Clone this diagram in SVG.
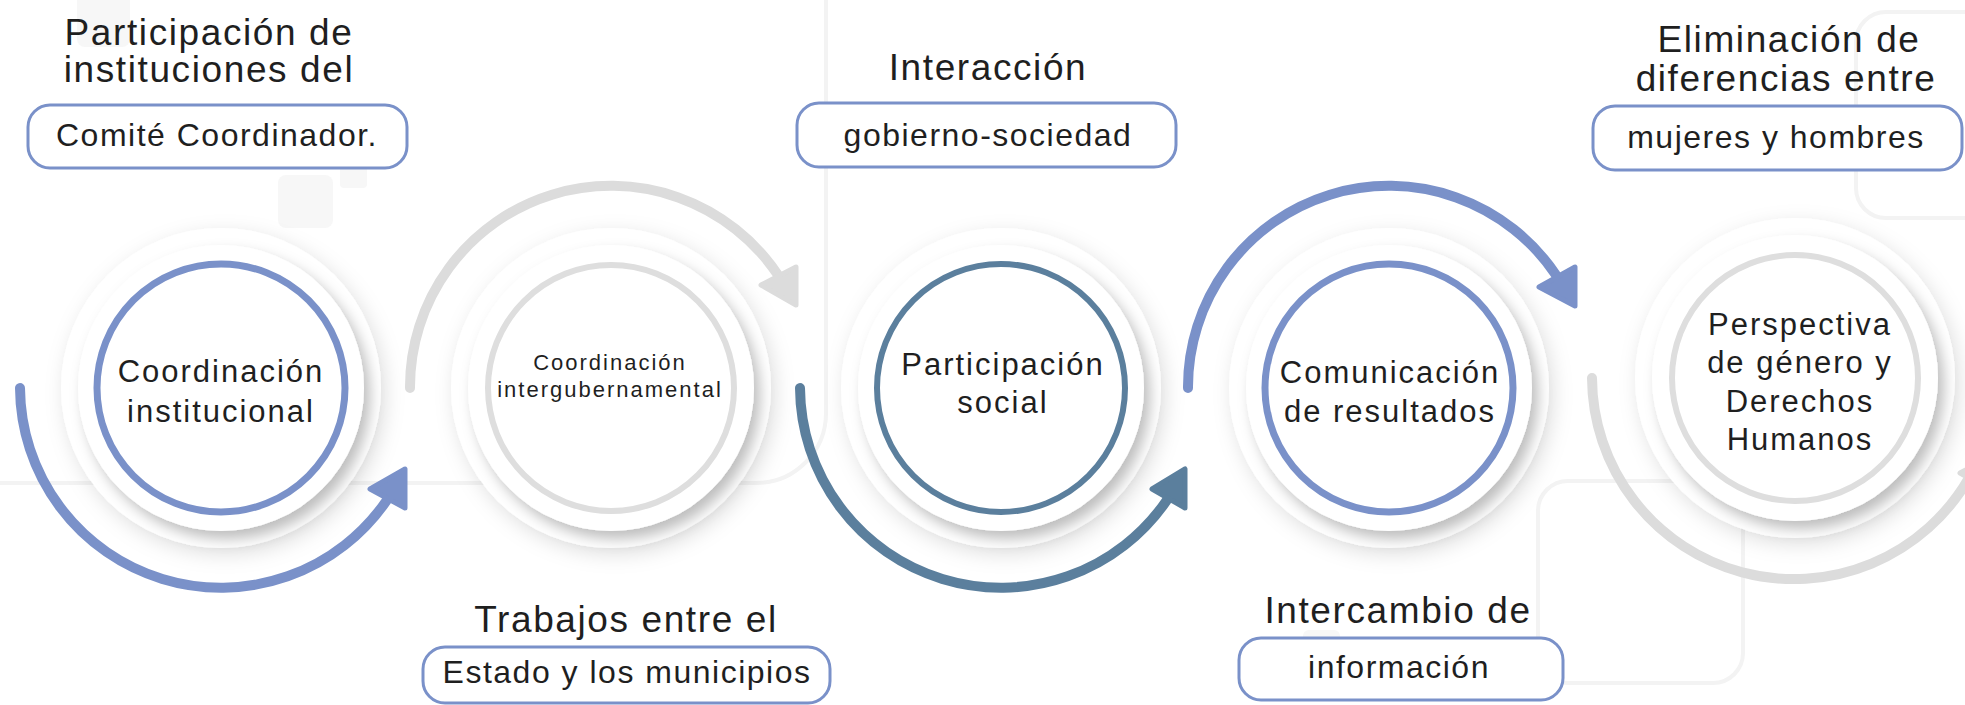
<svg xmlns="http://www.w3.org/2000/svg" width="1965" height="705" viewBox="0 0 1965 705">
<style>
  text { font-family: "Liberation Sans", Arial, sans-serif; fill: #1f1f1f; text-anchor: middle; }
  .title { font-size: 37px; letter-spacing: 1.6px; }
  .boxt { font-size: 32px; letter-spacing: 1.5px; }
  .node { font-size: 31px; letter-spacing: 2px; }
  .small { font-size: 22px; letter-spacing: 2px; }
  .box { fill: #ffffff; stroke: #7a91c9; stroke-width: 3; }
  .disc1 { fill: #ffffff; filter: url(#shOuter); }
  .disc2 { fill: #ffffff; filter: url(#shInner); }
  .bg { fill: none; stroke: #f3f3f3; stroke-width: 4; }
  .bgsq { fill: #f7f7f7; }
  .arc { fill: none; stroke-width: 10; stroke-linecap: round; }
  .head { stroke-width: 5; stroke-linejoin: round; }
  .blue { stroke: #7a91c9; }
  .steel { stroke: #5b7f9d; }
  .gray { stroke: #dcdcdc; }
  .fblue { fill: #7a91c9; }
  .fsteel { fill: #5b7f9d; }
  .fgray { fill: #dcdcdc; }
  .ring { fill: #ffffff; }
</style>
<defs>
  <filter id="shOuter" x="-30%" y="-30%" width="160%" height="160%">
    <feDropShadow dx="4" dy="6" stdDeviation="10" flood-color="#000000" flood-opacity="0.13"/>
  </filter>
  <filter id="shInner" x="-30%" y="-30%" width="160%" height="160%">
    <feDropShadow dx="6" dy="8" stdDeviation="7" flood-color="#000000" flood-opacity="0.26"/>
  </filter>
</defs>
<rect width="1965" height="705" fill="#ffffff"/>
<g id="background">
  <rect class="bg" x="-120" y="-120" width="946" height="603" rx="70"/>
  <rect class="bg" x="1538" y="481" width="205" height="202" rx="30"/>
  <rect class="bg" x="1856" y="12" width="160" height="206" rx="30"/>
  <rect class="bgsq" x="77" y="-8" width="53" height="55" rx="8"/>
  <rect class="bgsq" x="278" y="175" width="55" height="53" rx="8"/>
  <rect class="bgsq" x="340" y="160" width="27" height="28" rx="4"/>
  <rect class="bgsq" x="1795" y="107" width="28" height="21" rx="4"/>
  <rect class="bgsq" x="1303" y="630" width="37" height="33" rx="6"/>
</g>

<g id="node-coordinacion-institucional">
  <circle class="disc1" cx="221" cy="388" r="160"/>
  <circle class="disc2" cx="221" cy="388" r="143"/>
  <circle class="ring" cx="221" cy="388" r="124" stroke="#7a91c9" stroke-width="7"/>
  <text class="node" x="221" y="382">Coordinación</text>
  <text class="node" x="221" y="422">institucional</text>
</g>
<g id="node-coordinacion-intergubernamental">
  <circle class="disc1" cx="611" cy="388" r="160"/>
  <circle class="disc2" cx="611" cy="388" r="143"/>
  <circle class="ring" cx="611" cy="388" r="123" stroke="#dedede" stroke-width="6"/>
  <text class="small" x="610" y="370">Coordinación</text>
  <text class="small" x="610" y="397">intergubernamental</text>
</g>
<g id="node-participacion-social">
  <circle class="disc1" cx="1001" cy="388" r="160"/>
  <circle class="disc2" cx="1001" cy="388" r="143"/>
  <circle class="ring" cx="1001" cy="388" r="124" stroke="#5b7f9d" stroke-width="6"/>
  <text class="node" x="1003" y="375">Participación</text>
  <text class="node" x="1003" y="413">social</text>
</g>
<g id="node-comunicacion-resultados">
  <circle class="disc1" cx="1389" cy="388" r="160"/>
  <circle class="disc2" cx="1389" cy="388" r="143"/>
  <circle class="ring" cx="1389" cy="388" r="124" stroke="#7a91c9" stroke-width="7"/>
  <text class="node" x="1390" y="383">Comunicación</text>
  <text class="node" x="1390" y="422">de resultados</text>
</g>
<g id="node-perspectiva-genero">
  <circle class="disc1" cx="1795" cy="378" r="160"/>
  <circle class="disc2" cx="1795" cy="378" r="143"/>
  <circle class="ring" cx="1795" cy="378" r="123" stroke="#dedede" stroke-width="6"/>
  <text class="node" x="1800" y="335">Perspectiva</text>
  <text class="node" x="1800" y="373">de género y</text>
  <text class="node" x="1800" y="412">Derechos</text>
  <text class="node" x="1800" y="450">Humanos</text>
</g>

<g id="connectors">
  <path class="arc blue" d="M 20 388 A 201 201 0 0 0 387 500"/>
  <polygon class="head blue fblue" points="370,489 405,469 405,508"/>
  <path class="arc gray" d="M 410 388 A 201 201 0 0 1 778 275"/>
  <polygon class="head gray fgray" points="761,285 796,267 796,305"/>
  <path class="arc steel" d="M 800 388 A 201 201 0 0 0 1167 500"/>
  <polygon class="head steel fsteel" points="1152,489 1185,469 1185,508"/>
  <path class="arc blue" d="M 1188 388 A 201 201 0 0 1 1556 275"/>
  <polygon class="head blue fblue" points="1539,287 1575,267 1575,306"/>
  <path class="arc gray" d="M 1592 378 A 202 202 0 0 0 1969 478"/>
  <polygon class="head gray fgray" points="1960,473 1998,452 1998,495"/>
</g>

<g id="label-comite">
  <text class="title" x="209" y="45">Participación de</text>
  <text class="title" x="209" y="82">instituciones del</text>
  <rect class="box" x="28" y="105" width="379" height="63" rx="22"/>
  <text class="boxt" x="217" y="146">Comité Coordinador.</text>
</g>
<g id="label-interaccion">
  <text class="title" x="988" y="80">Interacción</text>
  <rect class="box" x="797" y="103" width="379" height="64" rx="22"/>
  <text class="boxt" x="988" y="146">gobierno-sociedad</text>
</g>
<g id="label-trabajos">
  <text class="title" x="626" y="632">Trabajos entre el</text>
  <rect class="box" x="423" y="647" width="407" height="56" rx="22"/>
  <text class="boxt" x="627" y="683">Estado y los municipios</text>
</g>
<g id="label-intercambio">
  <text class="title" x="1398" y="623">Intercambio de</text>
  <rect class="box" x="1239" y="638" width="324" height="62" rx="22"/>
  <text class="boxt" x="1399" y="678">información</text>
</g>
<g id="label-eliminacion">
  <text class="title" x="1789" y="52">Eliminación de</text>
  <text class="title" x="1786" y="91">diferencias entre</text>
  <rect class="box" x="1593" y="106" width="369" height="64" rx="22"/>
  <text class="boxt" x="1776" y="148">mujeres y hombres</text>
</g>
</svg>
